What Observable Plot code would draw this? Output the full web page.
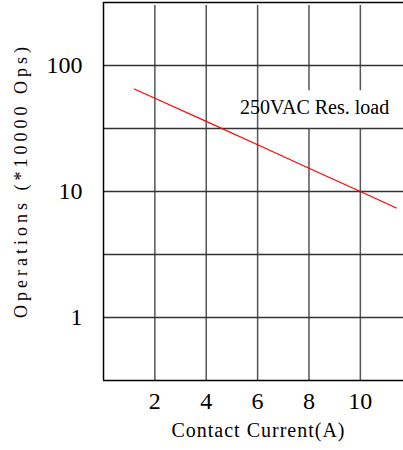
<!DOCTYPE html>
<html><head><meta charset="utf-8">
<script src="https://cdn.jsdelivr.net/npm/d3@7"></script>
<script src="https://cdn.jsdelivr.net/npm/@observablehq/plot@0.6"></script>
<style>body{margin:0;background:#fff}</style>
</head><body><div id="chart"></div>
<script>
// Data
const currentA = [1.2, 2, 4, 6, 8, 10, 11.4];
const operations = [65, 55, 36, 23.5, 15.3, 10, 7.4];
const xTicks = [2, 4, 6, 8, 10];
const yTicks = [1, 10, 100];
const yGrid = [0.3162, 1, 3.162, 10, 31.62, 100, 316.2];
const seriesLabel = ["250VAC Res. load"];
const xLabel = ["Contact Current(A)"];
const yLabel = ["Operations (*10000 Ops)"];

const rows = currentA.map((x, i) => ({x, y: operations[i]}));
const font = "'Liberation Serif', 'Times New Roman', serif";

const chart = Plot.plot({
  width: 403, height: 450,
  marginLeft: 103, marginRight: 0, marginTop: 2, marginBottom: 70,
  style: {fontFamily: font, background: "#fff", color: "#000"},
  x: {domain: [0, 11.68]},
  y: {type: "log", domain: [0.3162, 316.2]},
  marks: [
    Plot.ruleX(xTicks, {stroke: "#555", strokeWidth: 1.5, insetTop: 3}),
    Plot.rect(seriesLabel, {x1: 7.6, x2: 11.68, y1: 31.62, y2: 63, fill: "white"}),
    Plot.ruleY(yGrid.slice(1, -1), {stroke: "#333", strokeWidth: 1.5}),
    Plot.ruleY([0.3162, 316.2], {stroke: "#000", strokeWidth: 1.5}),
    Plot.ruleX([0], {stroke: "#000", strokeWidth: 1.5}),
    Plot.line(rows, {x: "x", y: "y", stroke: "red", strokeWidth: 1.2}),
    Plot.text(seriesLabel, {x: 8.22, y: 46, text: d => d, fontSize: 20, fill: "#000"}),
    Plot.axisX(xTicks, {tickSize: 0, tickPadding: 11, fontSize: 24, label: null}),
    Plot.axisY(yTicks, {tickSize: 0, tickPadding: 21, fontSize: 24, tickFormat: d => String(d), label: null}),
    Plot.text(xLabel, {frameAnchor: "bottom", lineAnchor: "middle", textAnchor: "middle", dy: 50, dx: 5, text: d => d, fontSize: 20, fill: "#000"}),
    Plot.text(yLabel, {frameAnchor: "left", textAnchor: "middle", lineAnchor: "middle", rotate: -90, dx: -82, dy: -11, text: d => d, fontSize: 18, fill: "#000"})
  ]
});
document.getElementById("chart").appendChild(chart);
// letter spacing for axis titles
d3.select(chart).selectAll("text").filter(function() { return this.textContent === xLabel[0]; }).style("letter-spacing", "1px");
d3.select(chart).selectAll("text").filter(function() { return this.textContent === yLabel[0]; }).style("letter-spacing", "4px");
</script>
</body></html>
